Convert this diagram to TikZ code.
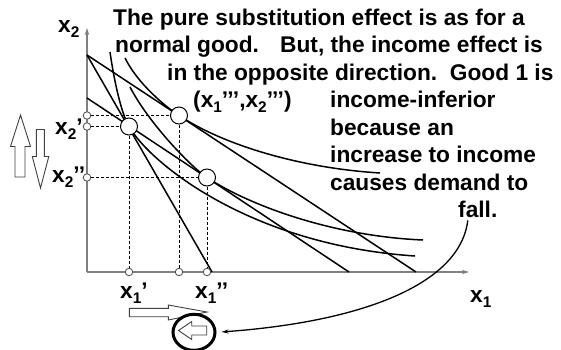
\documentclass[tikz,border=0pt]{standalone}
\usepackage{fontspec}
\setmainfont{Liberation Sans}
\usetikzlibrary{arrows.meta,shapes.geometric}
\newcommand\subx[1]{\raisebox{-0.22em}{\fontsize{15.5}{15.5}\selectfont #1}}
\begin{document}
\begin{tikzpicture}[x=1bp,y=-1bp,
  every node/.style={font=\fontsize{22.8}{27}\selectfont\bfseries, inner sep=0pt},
  txt/.style={anchor=base west},
  axis/.style={draw=gray, line width=1.3bp, -{Stealth[length=7bp,width=4.5bp]}},
  budget/.style={line width=1.5bp, black},
  indiff/.style={line width=1.5bp, black},
  guide/.style={line width=0.8bp, dash pattern=on 3bp off 2bp},
  bigdot/.style={circle, draw=black, fill=white, line width=1bp, minimum size=17bp},
  smalldot/.style={circle, draw=black!70, fill=white, line width=0.8bp, minimum size=7.5bp},
  blockarrow/.style={draw=black!75, fill=white, line width=0.9bp},
  pointer/.style={line width=1.3bp, -{Stealth[length=7bp,width=4bp]}}
]
\useasboundingbox (0,0) rectangle (561,349);
% axes
\coordinate (O) at (87,272);
\coordinate (ytop) at (87,28);
\coordinate (xend) at (469,272);
\draw[axis] (O) -- (ytop);
\draw[axis] (O) -- (xend);
% budget lines
\coordinate (p1) at (87,55);
\coordinate (q1) at (212,272);
\coordinate (q2) at (416,272);
\coordinate (p3) at (87,98);
\coordinate (q3) at (349,272);
\draw[budget] (p1) -- (q1);
\draw[budget] (p1) -- (q2);
\draw[budget] (p3) -- (q3);
% bundles
\coordinate (a) at (129,126.5);
\coordinate (b) at (179,115.5);
\coordinate (c) at (207,177.5);
% indifference curves
\draw[indiff] (110,52) .. controls (114,80) and (121,112.6) .. (a) .. controls (150,163) and (250,245) .. (415,256);
\draw[indiff] (125,58) .. controls (138,84) and (165,106.3) .. (b) .. controls (224,145.2) and (300,168) .. (380,173);
\draw[indiff] (130,87) .. controls (148,122) and (190,166.2) .. (c) .. controls (247,204.1) and (330,236) .. (423,240);
% small dots on axes
\node[smalldot] (ya) at (87,126.5) {};
\node[smalldot] (yb) at (87,115.5) {};
\node[smalldot] (yc) at (87,177.5) {};
\node[smalldot] (xa) at (129,272) {};
\node[smalldot] (xb) at (179,272) {};
\node[smalldot] (xc) at (207,272) {};
% big dots
\node[bigdot] (A) at (a) {};
\node[bigdot] (B) at (b) {};
\node[bigdot] (C) at (c) {};
% guides
\draw[guide] (ya) -- (A);
\draw[guide] (yb) -- (B);
\draw[guide] (yc) -- (C);
\draw[guide] (A) -- (xa);
\draw[guide] (B) -- (xb);
\draw[guide] (C) -- (xc);
% axis labels
\node[txt] (lx2) at (58,32) {x\subx{2}};
\node[txt] (lx2a) at (55,134) {x\subx{2}’};
\node[txt] (lx2b) at (52,182) {x\subx{2}’’};
\node[txt] (lx1a) at (120,298.5) {x\subx{1}’};
\node[txt] (lx1b) at (195,298.5) {x\subx{1}’’};
\node[txt] (lx1) at (470,302) {x\subx{1}};
\node[txt] (lB) at (193,107) {(x\subx{1}’’’,x\subx{2}’’’)};
% explanation text
\node[txt] (t1) at (113,25) {The pure substitution effect is as for a};
\node[txt] (t2a) at (115,52) {normal good.};
\node[txt] (t2b) at (280,52) {But, the income effect is};
\node[txt] (t3) at (167,80) {in the opposite direction.\ \ Good 1 is};
\node[txt] (t4) at (330,107) {income-inferior};
\node[txt] (t5) at (330,135) {because an};
\node[txt] (t6) at (330,162) {increase to income};
\node[txt] (t7) at (330,190) {causes demand to};
\node[txt] (t8) at (458,217) {fall.};
% block arrows left
\draw[blockarrow] (20.5,115) -- (30.5,146.5) -- (25,146.5) -- (25,177) -- (15,177) -- (15,146.5) -- (10.5,146.5) -- cycle;
\draw[blockarrow] (36.3,129.5) -- (44.3,129.5) -- (44.3,156.5) -- (48.8,156.5) -- (40.5,188) -- (32.3,156.5) -- (36.3,156.5) -- cycle;
% bottom right-pointing arrow
\draw[blockarrow] (129.3,308.3) -- (168.3,308.3) -- (168.3,305) -- (207,312) -- (168.3,320) -- (168.3,316.7) -- (129.3,316.7) -- cycle;
% circled left arrow
\node[ellipse, draw=black, fill=white, line width=3bp, minimum width=42bp, minimum height=36bp] (E) at (194,332.3) {};
\draw[blockarrow] (178.5,330.5) -- (191.7,321.5) -- (191.7,326) -- (206.7,326) -- (206.7,335) -- (191.7,335) -- (191.7,339.5) -- cycle;
% pointer from text to circle
\draw[pointer, shorten >=5bp] ([xshift=-10bp,yshift=-3bp]t8.south) .. controls (460,285) and (360,322) .. (E.east);
\end{tikzpicture}
\end{document}
